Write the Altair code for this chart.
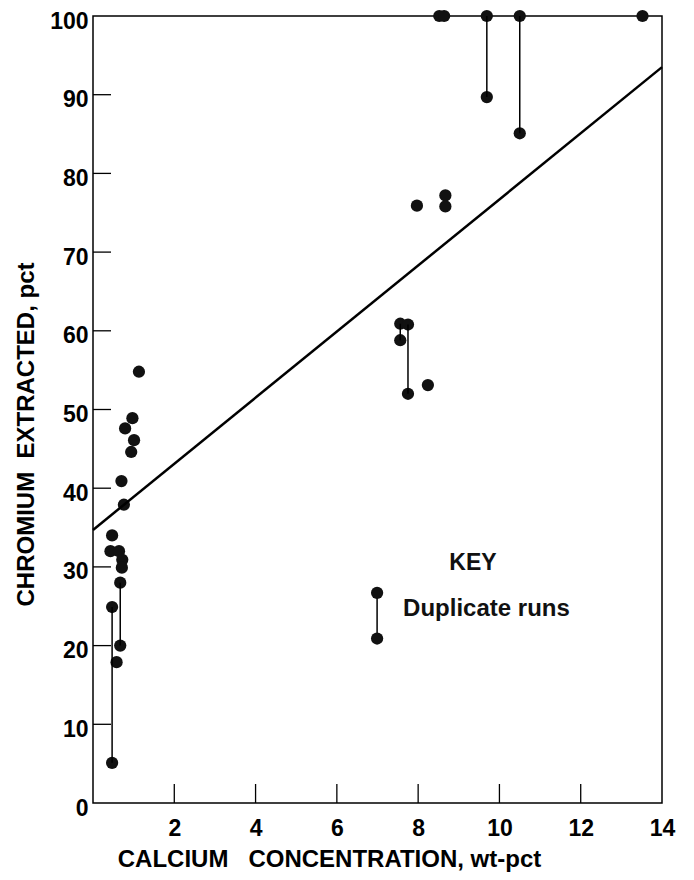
import altair as alt
import pandas as pd

# ---- data ----
ca = [1.13, 0.97, 0.79, 1.01, 0.94, 0.70, 0.76, 0.47, 0.43, 0.64, 0.72, 0.71, 0.67,
      0.47, 0.67, 0.58, 0.47,
      7.97, 8.67, 8.67, 7.56, 7.75, 7.56, 8.24, 7.75,
      8.52, 8.64, 9.69, 9.69, 10.50, 10.50, 13.52]
cr = [54.8, 48.9, 47.6, 46.1, 44.6, 40.9, 37.9, 34.0, 32.0, 32.0, 30.9, 29.9, 28.0,
      24.9, 20.0, 17.9, 5.1,
      75.9, 77.2, 75.8, 60.9, 60.8, 58.8, 53.1, 52.0,
      100, 100, 100, 89.7, 100, 85.1, 100]

# duplicate-run connectors
dup_ca = [0.47, 0.67, 7.56, 7.75, 9.69, 10.50]
dup_lo = [5.1, 20.0, 58.8, 52.0, 89.7, 85.1]
dup_hi = [24.9, 28.0, 60.9, 60.8, 100, 100]

# fitted line end points
fit_ca = [0, 14]
fit_cr = [34.7, 93.5]

# key
key_ca = [6.99]
key_lo = [20.9]
key_hi = [26.7]
key_texts = ["KEY", "Duplicate runs"]
key_text_ca = [9.35, 7.63]
key_text_cr = [30.5, 24.6]

x_ticks = [2, 4, 6, 8, 10, 12, 14]
y_ticks = [0, 10, 20, 30, 40, 50, 60, 70, 80, 90, 100]

W, H = 569, 787
FONT = "Liberation Sans"

xs = alt.Scale(domain=[0, 14], nice=False, zero=False)
ys = alt.Scale(domain=[0, 100], nice=False, zero=False)

pts = pd.DataFrame({"ca": ca, "cr": cr})
dup = pd.DataFrame({"ca": dup_ca, "lo": dup_lo, "hi": dup_hi})
fit = pd.DataFrame({"ca": fit_ca, "cr": fit_cr})
key_rule = pd.DataFrame({"ca": key_ca, "lo": key_lo, "hi": key_hi})
key_pts = pd.DataFrame({"ca": key_ca * 2, "cr": key_lo + key_hi})
ytk = pd.DataFrame({"v": y_ticks[1:-1]})
xtk = pd.DataFrame({"v": x_ticks[:-1]})

x_axis = alt.Axis(values=x_ticks, ticks=False, domain=False, grid=False,
                  labelFont=FONT, labelFontWeight="bold", labelFontSize=23,
                  labelColor="black", labelPadding=14, labelFlush=False,
                  labelOverlap=False,
                  title="CALCIUM\u00a0\u00a0\u00a0CONCENTRATION, wt-pct",
                  titleFont=FONT, titleFontWeight="bold", titleFontSize=24,
                  titleColor="black", titleX=236, titleY=56,
                  titleAlign="center", titleBaseline="middle")
y_axis = alt.Axis(values=y_ticks, ticks=False, domain=False, grid=False,
                  labelFont=FONT, labelFontWeight="bold", labelFontSize=23,
                  labelColor="black", labelPadding=5, labelOffset=5,
                  labelFlush=False, labelOverlap=False,
                  title="CHROMIUM\u00a0\u00a0EXTRACTED, pct",
                  titleFont=FONT, titleFontWeight="bold", titleFontSize=24,
                  titleColor="black", titleAngle=270, titleX=-67, titleY=418,
                  titleAlign="center", titleBaseline="middle")


def X(f):
    return alt.X(f, scale=xs, axis=x_axis)


def Y(f):
    return alt.Y(f, scale=ys, axis=y_axis)


pt_layer = alt.Chart(pts).mark_circle(size=150, color="#111", opacity=1).encode(
    x=X("ca:Q"), y=Y("cr:Q"))

ytick_layer = alt.Chart(ytk).mark_rule(color="black", strokeWidth=1.3).encode(
    y=Y("v:Q"), x=alt.value(0), x2=alt.value(18))
xtick_layer = alt.Chart(xtk).mark_rule(color="black", strokeWidth=1.3).encode(
    x=X("v:Q"), y=alt.value(H), y2=alt.value(H - 19))

dup_layer = alt.Chart(dup).mark_rule(color="black", strokeWidth=1.5).encode(
    x=X("ca:Q"), y=Y("lo:Q"), y2="hi:Q")

fit_layer = alt.Chart(fit).mark_line(color="black", strokeWidth=2.5).encode(
    x=X("ca:Q"), y=Y("cr:Q"))

key_rule_layer = alt.Chart(key_rule).mark_rule(color="black", strokeWidth=1.5).encode(
    x=X("ca:Q"), y=Y("lo:Q"), y2="hi:Q")
key_pt_layer = alt.Chart(key_pts).mark_circle(size=150, color="#111", opacity=1).encode(
    x=X("ca:Q"), y=Y("cr:Q"))

kt = pd.DataFrame({"t": key_texts, "ca": key_text_ca, "cr": key_text_cr})
key_title_layer = alt.Chart(kt.iloc[[0]]).mark_text(
    font=FONT, fontWeight="bold", fontSize=23, color="#111",
    align="center", baseline="middle").encode(
    x=X("ca:Q"), y=Y("cr:Q"), text="t:N")
key_label_layer = alt.Chart(kt.iloc[[1]]).mark_text(
    font=FONT, fontWeight="bold", fontSize=24, color="#111",
    align="left", baseline="middle").encode(
    x=X("ca:Q"), y=Y("cr:Q"), text="t:N")

chart = alt.layer(
    pt_layer, ytick_layer, xtick_layer, dup_layer, fit_layer,
    key_rule_layer, key_pt_layer, key_title_layer, key_label_layer
).properties(
    width=W, height=H,
    padding={"left": 85, "top": 8, "right": 24, "bottom": 69},
    autosize=alt.AutoSizeParams(type="none"),
    background="white",
).configure_view(stroke="black", strokeWidth=1.5)

chart.save("out.html", embed_options={"renderer": "svg", "actions": False})
